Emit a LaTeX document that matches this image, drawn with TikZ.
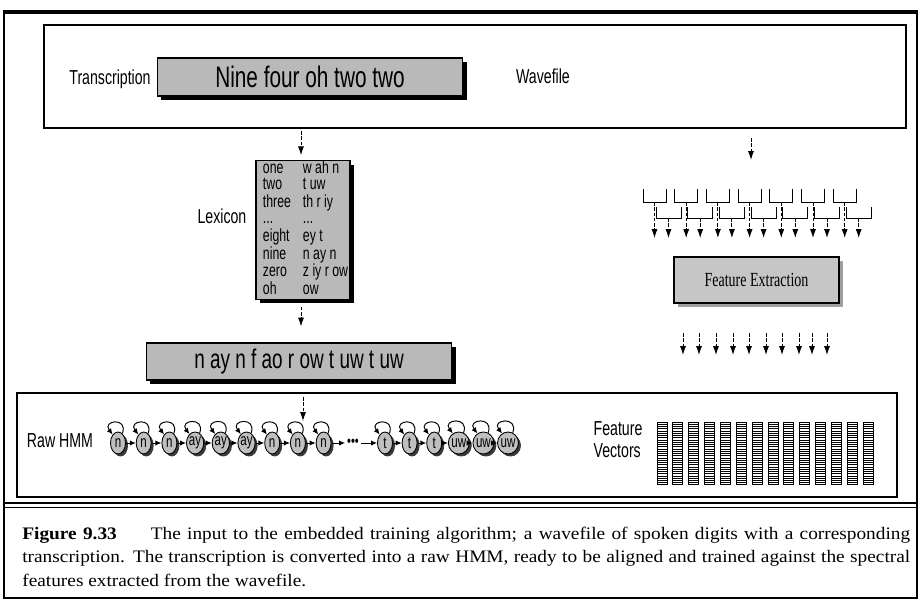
\documentclass[tikz,border=0pt]{standalone}
\usepackage{fontspec}
\setmainfont{Liberation Serif}
\newfontfamily\narrowsans[FakeStretch=0.7]{Liberation Sans}
\newfontfamily\narrowserif[FakeStretch=0.7]{Liberation Serif}
\newfontfamily\capfont[FakeStretch=1.1]{Liberation Serif}
\usetikzlibrary{shapes.geometric}
\usetikzlibrary{shadows}
\usetikzlibrary{arrows.meta}

\begin{document}
\begin{tikzpicture}[x=0.02cm, y=-0.02cm,
    sidetext/.style={font=\narrowsans\fontsize{11.5}{12.4}\selectfont, inner sep=0pt},
    panel/.style={draw, line width=0.7pt, inner sep=0pt},
    boxbase/.style={draw, line width=0.6pt, fill=gray!55, inner sep=0pt},
    greybox/.style={boxbase,
      drop shadow={shadow xshift=0.08cm, shadow yshift=-0.08cm, fill=black, opacity=1}},
    softbox/.style={boxbase, fill=gray!45,
      drop shadow={shadow xshift=0.08cm, shadow yshift=-0.08cm, fill=gray!75, opacity=1}},
    flow/.style={line width=0.55pt, dash pattern=on 2pt off 1pt, -{Latex[length=5pt,width=3.4pt]}},
    hop/.style={line width=0.55pt, -{Latex[length=3.4pt,width=3pt]}},
    hmmstate/.style={ellipse, draw, line width=0.5pt, fill=gray!50, minimum width=0.3cm,
      minimum height=0.44cm, inner sep=0pt, font=\narrowsans\fontsize{9.4}{10}\selectfont,
      drop shadow={shadow xshift=0.05cm, shadow yshift=-0.05cm, fill=gray!45!black, opacity=1}},
  ]
  \useasboundingbox (0,0) rectangle (921,605);

  % frame and rule above the caption
  \draw[line width=1.3pt] (4,12) -- (4,598) -- (917,598) -- (917,12);
  \draw[line width=2.4pt] (3,12) -- (918,12);
  \draw[line width=1.1pt] (4,503) -- (917,503);
  \draw[line width=1.1pt] (4,507.5) -- (917,507.5);

  % transcription and wavefile
  \node[panel, minimum width=17.24cm, minimum height=2.06cm] (wavebox) at (475,76.5) {};
  \node[sidetext] (trlabel) at (110,79) {Transcription};
  \node[greybox, minimum width=6.12cm, minimum height=0.76cm,
    font=\narrowsans\fontsize{16.9}{18}\selectfont] (digits) at (310,77) {Nine four oh two two};
  \node[sidetext] (wavelabel) at (543,76) {Wavefile};

  % lexicon
  \coordinate (lexin) at (301,131);
  \node[sidetext] (lexlabel) at (222,216) {Lexicon};
  \node[greybox, minimum width=1.88cm, minimum height=2.72cm,
    font=\narrowsans\fontsize{10}{9.3}\selectfont] (lexicon) at (303,230) {%
    \begin{tabular}{@{\hspace{0.1cm}}p{0.8cm}@{}l@{}}
      one & w ah n\\
      two & t uw\\
      three & th r iy\\
      ... & ...\\
      eight & ey t\\
      nine & n ay n\\
      zero & z iy r ow\\
      oh & ow
    \end{tabular}};
  \draw[flow, shorten >=0.1cm] (lexin) -- (lexin |- lexicon.north);

  \node[greybox, minimum width=6.12cm, minimum height=0.74cm,
    font=\narrowsans\fontsize{15.4}{16}\selectfont] (phones) at (299,361.5) {n ay n f ao r ow t uw t uw};
  \draw[flow, shorten <=0.14cm, shorten >=0.32cm] (lexin |- lexicon.south) -- (lexin |- phones.north);

  % raw HMM
  \node[panel, minimum width=17.6cm, minimum height=2.08cm] (hmmbox) at (457,445) {};
  \coordinate (hmmin) at (303,397);
  \coordinate (hmmtip) at (303,421);
  \draw[flow] (hmmin) -- (hmmtip);
  \node[sidetext] (hmmlabel) at (60,441) {Raw HMM};
  \foreach \lab [count=\i] in {n,n,n,ay,ay,ay,n,n,n}
    \node[hmmstate] (s\i) at ({118+25.7*(\i-1)},443) {\lab};
  \node[inner sep=1pt, font=\narrowsans\fontsize{9}{10}\selectfont] (gap) at (353,443) {\textbullet\textbullet\textbullet};
  \foreach \lab [count=\i from 10] in {t,t,t,uw,uw,uw}
    \node[hmmstate] (s\i) at ({385+24.6*(\i-10)},443) {\lab};
  \foreach \i in {1,...,15}
    \draw[hop] (s\i.65) .. controls +(6,-17) and +(-11,-14) .. (s\i.122);
  \foreach \i [evaluate=\i as \j using int(\i+1)] in {1,...,8,10,11,...,14}
    \draw[hop] (s\i) -- (s\j);
  \draw[hop] (s9) -- (gap);
  \draw[hop] (gap) -- (s10);

  % filter bank
  \coordinate (wavetap) at (751,138);
  \coordinate (bankin) at (751,160);
  \draw[flow] (wavetap) -- (bankin);
  \foreach \i in {0,...,6} {
    \pgfmathsetmacro\a{643+31.7*\i}
    \pgfmathsetmacro\b{656+31.7*\i}
    \draw[line width=0.5pt] (\a,189) |- ({\a+23},202) -- ({\a+23},189);
    \draw[line width=0.5pt] (\b,207) |- ({\b+25},218) -- ({\b+25},207);
    \draw[flow] ({\a+11.5},202) -- ({\a+11.5},238);
    \draw[flow] ({\b+12.5},218) -- ({\b+12.5},238);
  }
  \node[softbox, minimum width=3.3cm, minimum height=0.92cm,
    font=\narrowserif\fontsize{11.4}{12}\selectfont] (extract) at (756.5,280) {Feature Extraction};
  \foreach \x in {683,699,716,733,749,766,782,799,812,827}
    \draw[flow] (\x,333) -- (\x,355);

  % feature vectors
  \node[sidetext, align=left] (fvlabel) at (618,440) {Feature\\Vectors};
  \foreach \i in {0,...,13} {
    \draw[line width=0.5pt] ({657+15.85*\i},422) rectangle +(10,62);
    \foreach \k in {1,...,27}
      \draw[line width=0.3pt] ({657+15.85*\i},{422+2.25*\k}) -- +(10,0);
  }

  % caption
  \node[anchor=base west, inner sep=0pt, font=\capfont\fontsize{10}{13.3}\selectfont] (cap1) at (22,539)
    {\makebox[17.76cm][s]{\textbf{Figure 9.33}\hspace{0.68cm}The input to the embedded training algorithm; a wavefile of spoken digits with a corresponding}};
  \node[anchor=base west, inner sep=0pt, font=\capfont\fontsize{10}{13.3}\selectfont] (cap2) at (22,562.7)
    {\makebox[17.76cm][s]{transcription. The transcription is converted into a raw HMM, ready to be aligned and trained against the spectral}};
  \node[anchor=base west, inner sep=0pt, font=\capfont\fontsize{10}{13.3}\selectfont] (cap3) at (22,586)
    {features extracted from the wavefile.};
\end{tikzpicture}
\end{document}
